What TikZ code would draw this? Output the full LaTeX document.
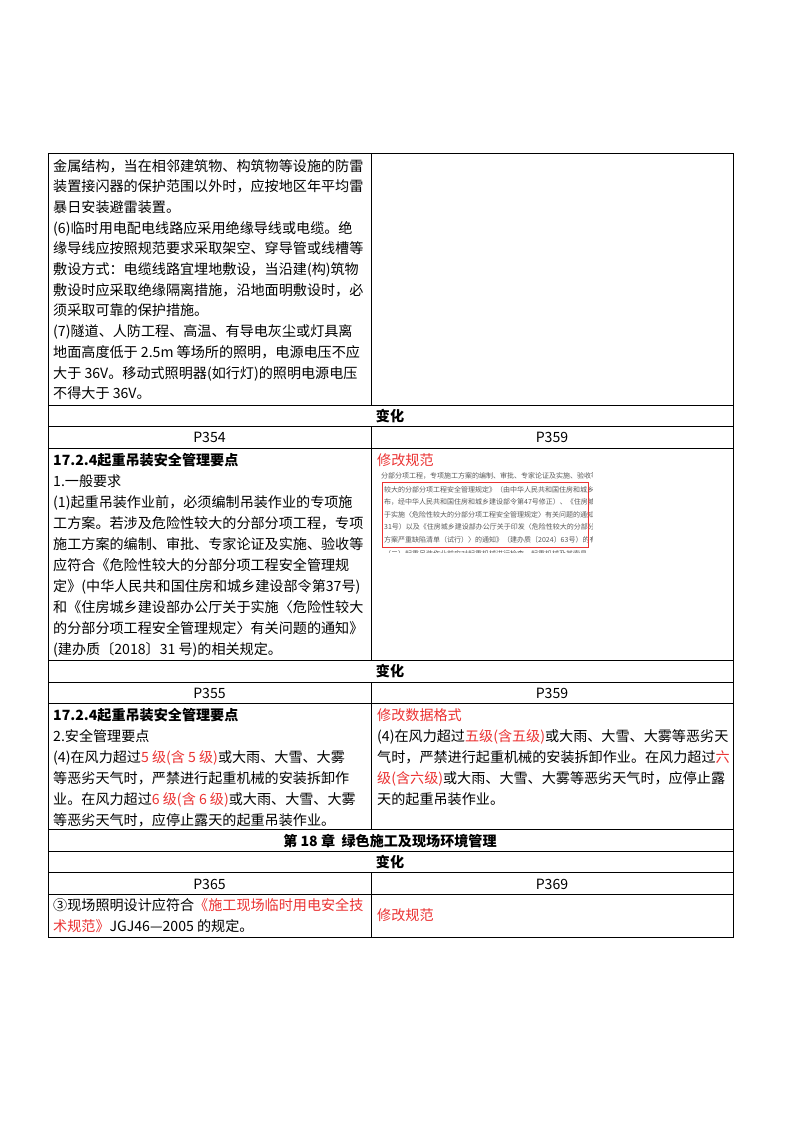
\documentclass[tikz,border=0pt]{standalone}
\usepackage{fontspec}
\setmainfont{Noto Sans CJK SC}
\definecolor{rd}{RGB}{235,50,50}
\definecolor{gr}{RGB}{90,90,90}
\begin{document}
\begin{tikzpicture}[x=1pt,y=-1pt,
  tx/.style={anchor=base west,inner sep=0pt,font=\fontsize{14.1}{18}\selectfont},
  ct/.style={anchor=base,inner sep=0pt,font=\fontsize{14.1}{18}\selectfont\bfseries},
  pg/.style={anchor=base,inner sep=0pt,font=\fontsize{14.1}{18}\selectfont},
  sm/.style={anchor=base west,inner sep=0pt,text=gr,font=\fontsize{7}{8}\selectfont},
  rule/.style={line width=0.8pt}]
\useasboundingbox (0,0) rectangle (800,1132);
\fill[white] (0,0) rectangle (800,1132);
% grid
\draw[rule] (48,153) rectangle (733,937);
\foreach \y in {405,426,448,660,682,703,829,851,872,894} \draw[rule] (48,\y) -- (733,\y);
\draw[rule] (371,153) -- (371,405);
\draw[rule] (371,426) -- (371,660);
\draw[rule] (371,682) -- (371,829);
\draw[rule] (371,872) -- (371,937);
% block 1
\node[tx] (a1) at (53,171) {金属结构，当在相邻建筑物、构筑物等设施的防雷};
\node[tx] (a2) at (53,191.7) {装置接闪器的保护范围以外时，应按地区年平均雷};
\node[tx] (a3) at (53,212.4) {暴日安装避雷装置。};
\node[tx] (a4) at (53,233.1) {(6)临时用电配电线路应采用绝缘导线或电缆。绝};
\node[tx] (a5) at (53,253.8) {缘导线应按照规范要求采取架空、穿导管或线槽等};
\node[tx] (a6) at (53,274.5) {敷设方式：电缆线路宜埋地敷设，当沿建(构)筑物};
\node[tx] (a7) at (53,295.2) {敷设时应采取绝缘隔离措施，沿地面明敷设时，必};
\node[tx] (a8) at (53,315.9) {须采取可靠的保护措施。};
\node[tx] (a9) at (53,336.6) {(7)隧道、人防工程、高温、有导电灰尘或灯具离};
\node[tx] (a10) at (53,357.3) {地面高度低于 2.5m 等场所的照明，电源电压不应};
\node[tx] (a11) at (53,378) {大于 36V。移动式照明器(如行灯)的照明电源电压};
\node[tx] (a12) at (53,398.7) {不得大于 36V。};
% header rows
\node[ct] (b1) at (390,421) {变化};
\node[pg] (b2) at (209.5,442.5) {P354};
\node[pg] (b3) at (552,442.5) {P359};
% block 2
\node[tx,font=\fontsize{14.1}{18}\selectfont\bfseries] (c1) at (53,465) {17.2.4起重吊装安全管理要点};
\node[tx] (c2) at (53,486) {1.一般要求};
\node[tx] (c3) at (53,507) {(1)起重吊装作业前，必须编制吊装作业的专项施};
\node[tx] (c4) at (53,528) {工方案。若涉及危险性较大的分部分项工程，专项};
\node[tx] (c5) at (53,549) {施工方案的编制、审批、专家论证及实施、验收等};
\node[tx] (c6) at (53,570) {应符合《危险性较大的分部分项工程安全管理规};
\node[tx] (c7) at (53,591) {定》(中华人民共和国住房和城乡建设部令第37号)};
\node[tx] (c8) at (53,612) {和《住房城乡建设部办公厅关于实施〈危险性较大};
\node[tx] (c9) at (53,633) {的分部分项工程安全管理规定〉有关问题的通知》};
\node[tx] (c10) at (53,654) {(建办质〔2018〕31 号)的相关规定。};
\node[tx,text=rd] (d1) at (377,465) {修改规范};
% embedded image
\begin{scope}
\clip (377,468) rectangle (592,552);
\node[sm] (e0) at (381,478) {分部分项工程，专项施工方案的编制、审批、专家论证及实施、验收等应符合《危险};
\node[sm] (e1) at (384,492) {较大的分部分项工程安全管理规定》（由中华人民共和国住房和城乡建设部令第37号发};
\node[sm] (e2) at (384,504.5) {布，经中华人民共和国住房和城乡建设部令第47号修正）、《住房城乡建设部办公厅关};
\node[sm] (e3) at (384,517) {于实施〈危险性较大的分部分项工程安全管理规定〉有关问题的通知》（建办质〔2018〕};
\node[sm] (e4) at (384,529.5) {31号）以及《住房城乡建设部办公厅关于印发〈危险性较大的分部分项工程专项施工};
\node[sm] (e5) at (384,542) {方案严重缺陷清单（试行）〉的通知》（建办质〔2024〕63号）的有关规定。};
\node[sm] (e6) at (384,556) {（二）起重吊装作业前应对起重机械进行检查，起重机械及其索具、吊具应完好可靠。};
\end{scope}
\draw[rd,line width=0.9pt] (382,482) rectangle (588,547);
% header rows 2
\node[ct] (f1) at (390,676) {变化};
\node[pg] (f2) at (209.5,698) {P355};
\node[pg] (f3) at (552,698) {P359};
% block 3
\node[tx,font=\fontsize{14.1}{18}\selectfont\bfseries] (g1) at (53,720) {17.2.4起重吊装安全管理要点};
\node[tx] (g2) at (53,741) {2.安全管理要点};
\node[tx] (g3) at (53,762) {(4)在风力超过\textcolor{rd}{ 5 级(含 5 级)}或大雨、大雪、大雾};
\node[tx] (g4) at (53,783) {等恶劣天气时，严禁进行起重机械的安装拆卸作};
\node[tx] (g5) at (53,804) {业。在风力超过\textcolor{rd}{ 6 级(含 6 级)}或大雨、大雪、大雾};
\node[tx] (g6) at (53,825) {等恶劣天气时，应停止露天的起重吊装作业。};
\node[tx,text=rd] (h1) at (377,720) {修改数据格式};
\node[tx] (h2) at (377,741) {(4)在风力超过\textcolor{rd}{五级(含五级)}或大雨、大雪、大雾等恶劣天};
\node[tx] (h3) at (377,762) {气时，严禁进行起重机械的安装拆卸作业。在风力超过\textcolor{rd}{六}};
\node[tx] (h4) at (377,783) {\textcolor{rd}{级(含六级)}或大雨、大雪、大雾等恶劣天气时，应停止露};
\node[tx] (h5) at (377,804) {天的起重吊装作业。};
% chapter
\node[ct] (i1) at (390,846) {第 18 章\ \ 绿色施工及现场环境管理};
\node[ct] (i2) at (390,867) {变化};
\node[pg] (i3) at (209.5,889) {P365};
\node[pg] (i4) at (552,889) {P369};
\node[tx] (j1) at (53,910) {③现场照明设计应符合\textcolor{rd}{《施工现场临时用电安全技}};
\node[tx] (j2) at (53,931) {\textcolor{rd}{术规范》}JGJ46—2005 的规定。};
\node[tx,text=rd] (j3) at (377,920) {修改规范};
\end{tikzpicture}
\end{document}
